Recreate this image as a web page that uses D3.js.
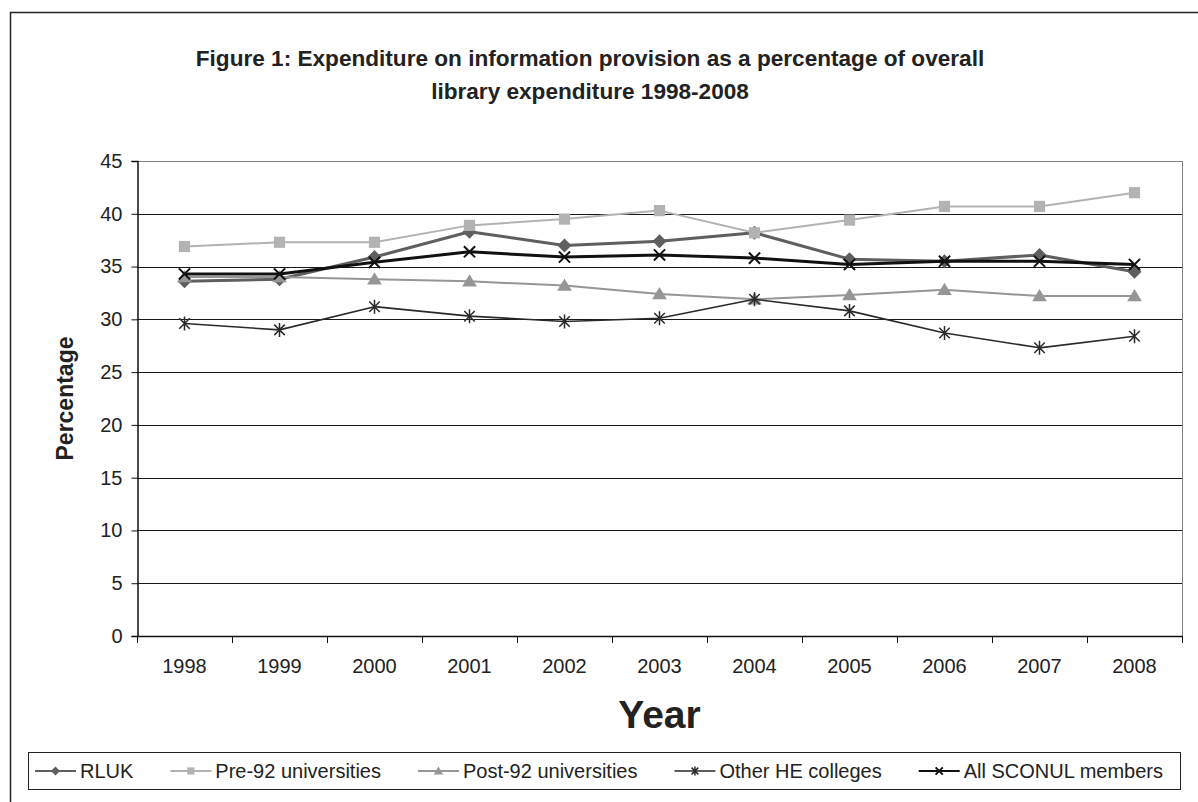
<!DOCTYPE html>
<html>
<head>
<meta charset="utf-8">
<script src="https://cdn.jsdelivr.net/npm/d3@7"></script>
<style>
  html, body { margin: 0; padding: 0; background: #fff; }
  svg { display: block; font-family: Arial, "Liberation Sans", sans-serif; }
</style>
</head>
<body>
<svg id="chart" width="1198" height="802"></svg>
<script>
// Expenditure on information provision, % of overall library expenditure
const years = ["1998","1999","2000","2001","2002","2003","2004","2005","2006","2007","2008"];
const yTicks = [0, 5, 10, 15, 20, 25, 30, 35, 40, 45];

const rluk       = [33.6, 33.8, 35.9, 38.3, 37.0, 37.4, 38.2, 35.7, 35.5, 36.1, 34.5];
const pre92      = [36.9, 37.3, 37.3, 38.9, 39.5, 40.3, 38.2, 39.4, 40.7, 40.7, 42.0];
const post92     = [34.0, 34.0, 33.8, 33.6, 33.2, 32.4, 31.9, 32.3, 32.8, 32.2, 32.2];
const otherHE    = [29.6, 29.0, 31.2, 30.3, 29.8, 30.1, 31.9, 30.8, 28.7, 27.3, 28.4];
const allSconul  = [34.3, 34.3, 35.4, 36.4, 35.9, 36.1, 35.8, 35.2, 35.5, 35.5, 35.2];

const seriesNames = ["RLUK", "Pre-92 universities", "Post-92 universities", "Other HE colleges", "All SCONUL members"];

const series = [
  { name: seriesNames[0], values: rluk,      color: "#5f5f5f", width: 3,   marker: "diamond" },
  { name: seriesNames[1], values: pre92,     color: "#b3b3b3", width: 2,   marker: "square" },
  { name: seriesNames[2], values: post92,    color: "#969696", width: 2,   marker: "triangle" },
  { name: seriesNames[3], values: otherHE,   color: "#2a2a2a", width: 1.6, marker: "asterisk" },
  { name: seriesNames[4], values: allSconul, color: "#111111", width: 3,   marker: "cross" }
];

const svg = d3.select("#chart");
const plot = { left: 137, right: 1182, top: 161, bottom: 636 };

const x = d3.scaleBand().domain(years).range([plot.left, plot.right]).padding(0);
const y = d3.scaleLinear().domain([0, 45]).range([plot.bottom, plot.top]);
const cx = d => x(d) + x.bandwidth() / 2;

// outer frame
svg.append("rect")
  .attr("x", 10.5).attr("y", 12.5).attr("width", 1220).attr("height", 820)
  .attr("fill", "none").attr("stroke", "#222").attr("stroke-width", 1.5);

// title
const title = svg.append("text")
  .attr("text-anchor", "middle")
  .attr("font-weight", "bold").attr("font-size", 22.6).attr("fill", "#222");
title.append("tspan").attr("x", 590).attr("y", 66)
  .text("Figure 1: Expenditure on information provision as a percentage of overall");
title.append("tspan").attr("x", 590).attr("y", 99)
  .text("library expenditure 1998-2008");

// horizontal gridlines
svg.append("g").selectAll("line")
  .data(yTicks.filter(t => t > 0))
  .join("line")
  .attr("x1", plot.left).attr("x2", plot.right)
  .attr("y1", d => Math.round(y(d)) + 0.5).attr("y2", d => Math.round(y(d)) + 0.5)
  .attr("stroke", d => d === 45 ? "#808080" : "#1a1a1a").attr("stroke-width", 1);

// right border of plot area
svg.append("line")
  .attr("x1", plot.right + 0.5).attr("x2", plot.right + 0.5)
  .attr("y1", plot.top).attr("y2", plot.bottom)
  .attr("stroke", "#808080");

// y axis
const yAxis = svg.append("g")
  .attr("transform", `translate(${plot.left + 0.5},0)`)
  .call(d3.axisLeft(y).tickValues(yTicks).tickSize(6).tickPadding(9));
yAxis.select(".domain").attr("stroke", "#111").attr("stroke-width", 1.5);
yAxis.selectAll(".tick line").attr("stroke", "#111");
yAxis.selectAll(".tick text").attr("font-size", 20).attr("fill", "#222")
  .attr("font-family", "Arial, 'Liberation Sans', sans-serif");

// x axis: labels centred in bands, ticks at band boundaries
const xAxis = svg.append("g")
  .attr("transform", `translate(0,${plot.bottom + 0.5})`)
  .call(d3.axisBottom(x).tickSize(0).tickPadding(22));
xAxis.select(".domain").remove();
xAxis.selectAll(".tick text").attr("font-size", 20).attr("fill", "#222")
  .attr("font-family", "Arial, 'Liberation Sans', sans-serif");
svg.append("line")
  .attr("x1", plot.left).attr("x2", plot.right + 1)
  .attr("y1", plot.bottom + 0.5).attr("y2", plot.bottom + 0.5)
  .attr("stroke", "#111").attr("stroke-width", 1.5);
svg.append("g").selectAll("line")
  .data(years.map(d => x(d)).concat([plot.right]))
  .join("line")
  .attr("x1", d => Math.round(d) + 0.5).attr("x2", d => Math.round(d) + 0.5)
  .attr("y1", plot.bottom).attr("y2", plot.bottom + 7)
  .attr("stroke", "#111");

// axis titles
svg.append("text")
  .attr("transform", `translate(73,${(plot.top + plot.bottom) / 2}) rotate(-90)`)
  .attr("text-anchor", "middle")
  .attr("font-weight", "bold").attr("font-size", 23).attr("fill", "#222")
  .text("Percentage");
svg.append("text")
  .attr("x", (plot.left + plot.right) / 2).attr("y", 728)
  .attr("text-anchor", "middle")
  .attr("font-weight", "bold").attr("font-size", 39).attr("fill", "#222")
  .text("Year");

// marker drawing
function drawMarker(g, type, color, s) {
  if (type === "diamond") {
    g.append("path").attr("d", `M0,${-s}L${s},0L0,${s}L${-s},0Z`).attr("fill", color);
  } else if (type === "square") {
    g.append("rect").attr("x", -s * 0.8).attr("y", -s * 0.8)
      .attr("width", s * 1.6).attr("height", s * 1.6).attr("fill", color);
  } else if (type === "triangle") {
    g.append("path").attr("d", `M0,${-s}L${s * 1.05},${s * 0.75}L${-s * 1.05},${s * 0.75}Z`).attr("fill", color);
  } else if (type === "cross") {
    const r = s * 0.8;
    g.append("path").attr("d", `M${-r},${-r}L${r},${r}M${-r},${r}L${r},${-r}`)
      .attr("stroke", color).attr("stroke-width", 2).attr("fill", "none");
  } else if (type === "asterisk") {
    const r = s * 0.75;
    g.append("path").attr("d", `M${-r},${-r}L${r},${r}M${-r},${r}L${r},${-r}M0,${-s}L0,${s}`)
      .attr("stroke", color).attr("stroke-width", 1.5).attr("fill", "none");
  }
}

const line = d3.line().x((d, i) => cx(years[i])).y(d => y(d));

// series lines and markers
series.forEach(s => {
  const g = svg.append("g");
  g.append("path").datum(s.values)
    .attr("d", line)
    .attr("fill", "none").attr("stroke", s.color)
    .attr("stroke-width", s.width).attr("stroke-linejoin", "round");
  s.values.forEach((v, i) => {
    const m = g.append("g").attr("transform", `translate(${cx(years[i])},${y(v)})`);
    drawMarker(m, s.marker, s.color, 7);
  });
});

// legend: entries laid out in one row, evenly spaced inside the box
const legend = svg.append("g");
legend.append("rect")
  .attr("x", 28.5).attr("y", 752.5).attr("width", 1152).attr("height", 37)
  .attr("fill", "#fff").attr("stroke", "#222").attr("stroke-width", 1);
const entries = series.map(s => {
  const g = legend.append("g");
  g.append("line").attr("x1", 0).attr("x2", 41).attr("y1", 0).attr("y2", 0)
    .attr("stroke", s.color).attr("stroke-width", Math.min(s.width, 2));
  drawMarker(g.append("g").attr("transform", "translate(20.5,0)"), s.marker, s.color, 4.5);
  const t = g.append("text").attr("x", 45).attr("y", 7)
    .attr("font-size", 20).attr("fill", "#222").text(s.name);
  return { g, w: 45 + t.node().getComputedTextLength() };
});
const startX = 35, endX = 1163;
const gap = (endX - startX - d3.sum(entries, e => e.w)) / (entries.length - 1);
let cursor = startX;
entries.forEach(e => {
  e.g.attr("transform", `translate(${cursor},771)`);
  cursor += e.w + gap;
});
</script>
</body>
</html>
